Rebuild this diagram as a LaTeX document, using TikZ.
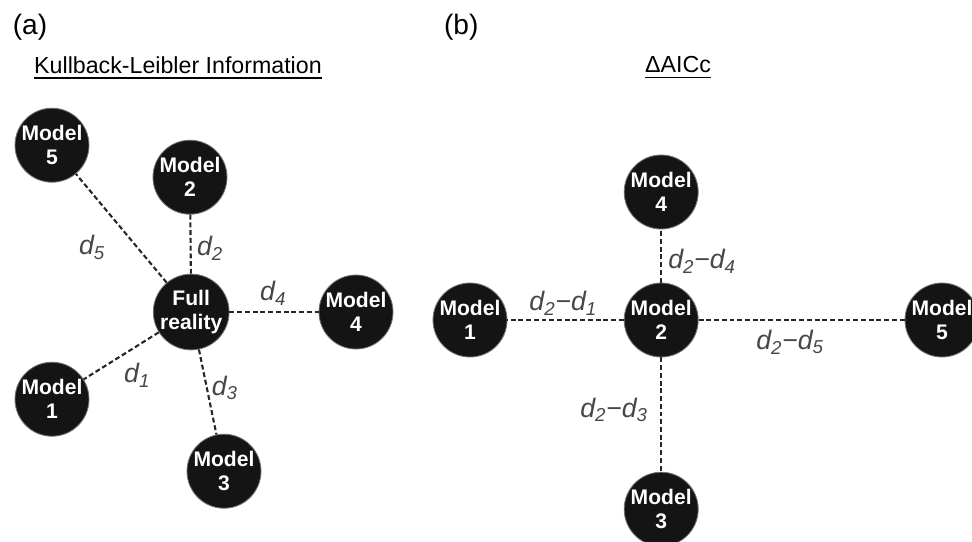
\documentclass[tikz,border=0pt]{standalone}
\usepackage{fontspec}
\setmainfont{Liberation Sans}

\begin{document}
\begin{tikzpicture}[
    model/.style={circle,fill=black!92,draw=black!55,line width=.6pt,
        minimum size=1.85cm,inner sep=0pt,text=white,align=center,
        font={\fontsize{15}{17}\selectfont\bfseries}},
    link/.style={draw=black!85,line width=1.5pt,
        dash pattern=on 3.5pt off 2pt},
    dist/.style={inner sep=0pt,text=black!72,
        font={\fontsize{19}{22}\selectfont\itshape}},
    panel/.style={inner sep=0pt,font={\fontsize{20}{24}\selectfont}},
    heading/.style={inner sep=0pt,font={\fontsize{16.5}{20}\selectfont}},
    ]
    % Page frame
    \useasboundingbox (0,0) rectangle (24.3,-13.525);
    % Panel names
    \node[panel] (pa) at (0.75,-0.68) {(a)};
    \node[panel] (pb) at (11.53,-0.68) {(b)};
    % Headings
    \node[heading] (kl) at (4.45,-1.62) {Kullback-Leibler Information};
    \draw[line width=1pt] ([yshift=-3pt]kl.south west)
        -- ([yshift=-3pt]kl.south east);
    \node[heading] (aic) at (16.95,-1.62) {ΔAICc};
    \draw[line width=1pt] ([yshift=-3pt]aic.south west)
        -- ([yshift=-3pt]aic.south east);
    % (a) Full reality and the models
    \node[model] (full) at (4.78,-7.8) {Full\\reality};
    \node[model] (a5) at (1.3,-3.63) {Model\\5};
    \node[model] (a2) at (4.75,-4.43) {Model\\2};
    \node[model] (a4) at (8.9,-7.8) {Model\\4};
    \node[model] (a1) at (1.3,-9.98) {Model\\1};
    \node[model] (a3) at (5.6,-11.78) {Model\\3};
    \foreach \m in {a5,a2,a4,a1,a3}
        \draw[link] (full) -- (\m);
    \node[dist] (ad5) at (2.3,-6.18) {d\textsubscript{5}};
    \node[dist] (ad2) at (5.25,-6.2) {d\textsubscript{2}};
    \node[dist] (ad4) at (6.83,-7.33) {d\textsubscript{4}};
    \node[dist] (ad1) at (3.43,-9.38) {d\textsubscript{1}};
    \node[dist] (ad3) at (5.62,-9.7) {d\textsubscript{3}};
    % (b) Best model and the others
    \node[model] (b2) at (16.53,-8) {Model\\2};
    \node[model] (b1) at (11.75,-8) {Model\\1};
    \node[model] (b4) at (16.53,-4.8) {Model\\4};
    \node[model] (b3) at (16.53,-12.73) {Model\\3};
    \node[model] (b5) at (23.55,-8) {Model\\5};
    \foreach \m in {b1,b4,b3,b5}
        \draw[link] (b2) -- (\m);
    \node[dist] (bd1) at (14.08,-7.58) {d\textsubscript{2}−d\textsubscript{1}};
    \node[dist] (bd4) at (17.55,-6.53) {d\textsubscript{2}−d\textsubscript{4}};
    \node[dist] (bd5) at (19.75,-8.55) {d\textsubscript{2}−d\textsubscript{5}};
    \node[dist] (bd3) at (15.35,-10.25) {d\textsubscript{2}−d\textsubscript{3}};
\end{tikzpicture}
\end{document}
